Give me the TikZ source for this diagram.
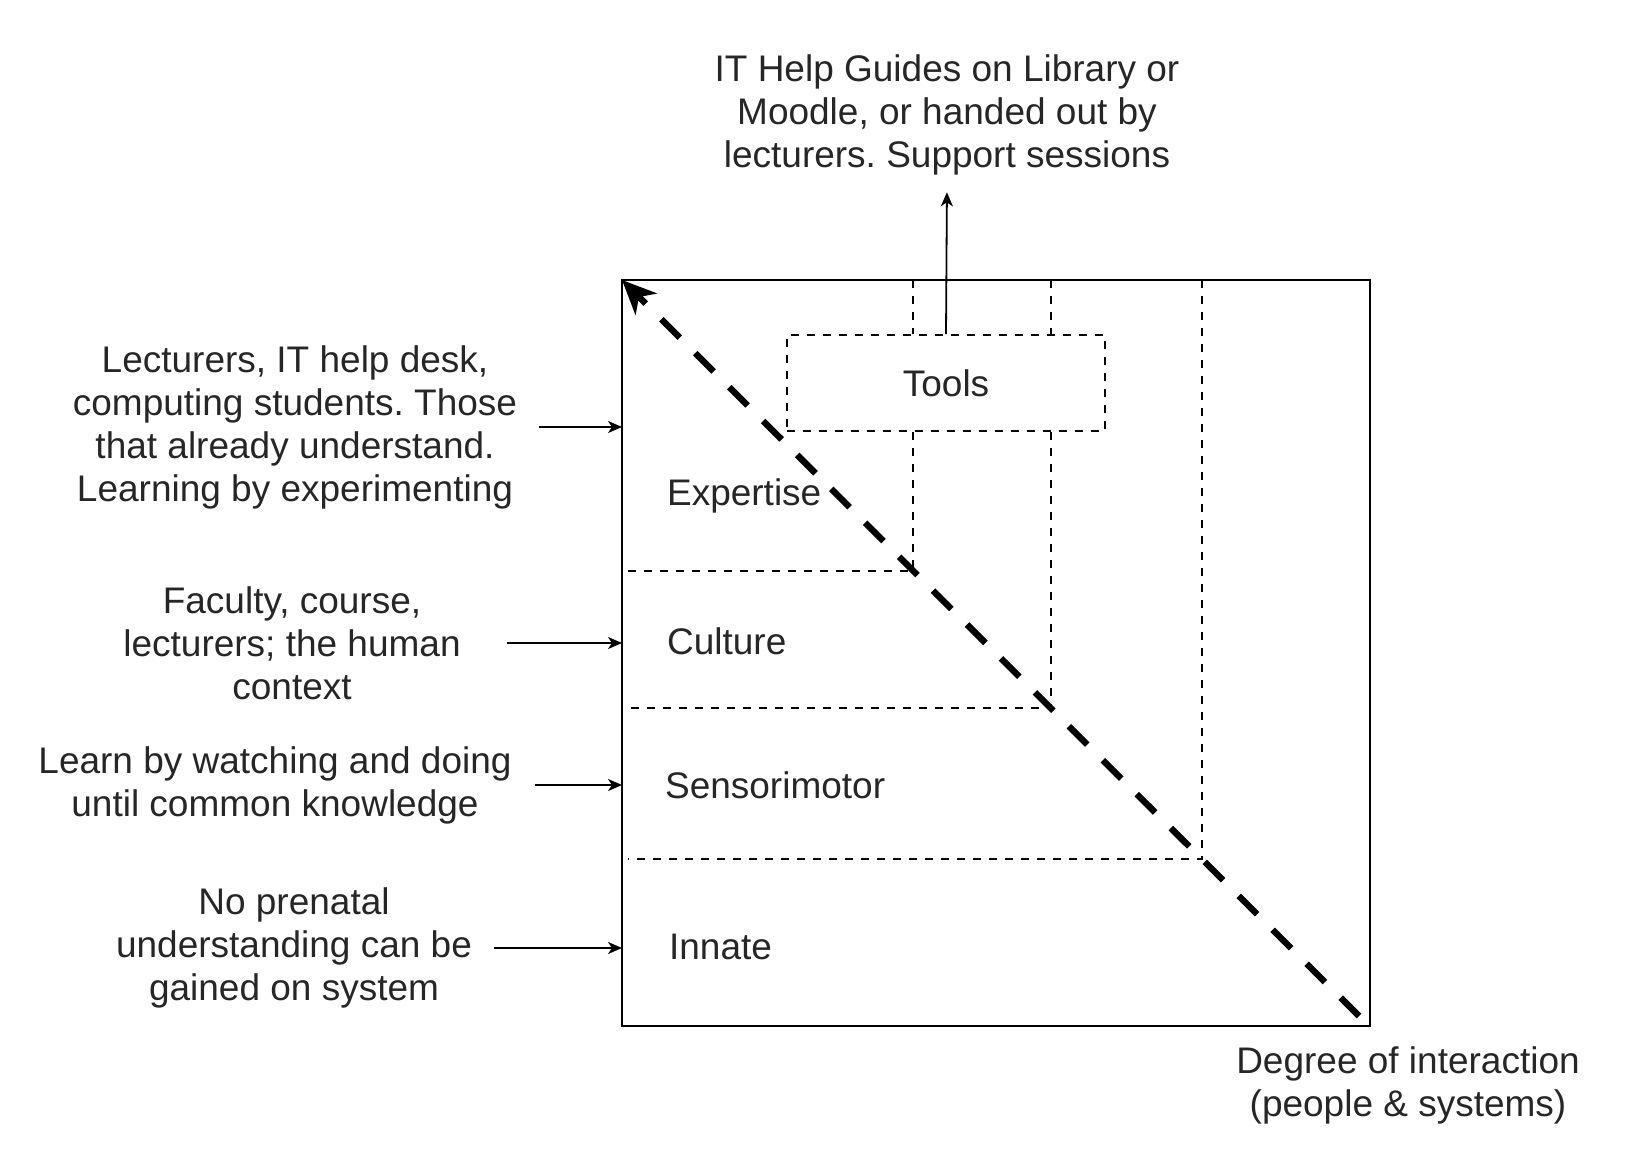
\documentclass[tikz,border=0pt]{standalone}
\usepackage{fontspec}
\setmainfont{Liberation Sans}
\usetikzlibrary{arrows.meta}
\frenchspacing
\newcommand{\gapline}[2]{
    \draw[fine] (#1 |- nw) -- (#1 |- tools.north);
    \draw[fine] (#1 |- tools.south) -- (#1) -- (#2,0 |- #1);
}

\begin{document}
\begin{tikzpicture}[x=0.5pt,y=-0.5pt,
    every node/.style={font=\fontsize{18.5}{21.5}\selectfont, text=black!85, align=center},
    region/.style={anchor=west},
    fine/.style={line width=0.8pt, dash pattern=on 4pt off 4pt},
    pointer/.style={line width=0.9pt, -{Stealth[length=7pt,width=6pt,inset=2pt]}},
    diag/.style={line width=3.2pt, dash pattern=on 13pt off 11pt, -{Stealth[length=17pt,width=15pt,inset=5pt]}}]
    \useasboundingbox (0,0) rectangle (1638,1176);
    \coordinate (nw) at (622,280);
    \coordinate (se) at (1370,1026);
    \coordinate (lvlexp) at (913,571);
    \coordinate (lvlcul) at (1051,708);
    \coordinate (lvlsen) at (1202,859);
    \draw[line width=1pt] (nw) rectangle (se);
    \node[draw, fine, minimum width=159pt, minimum height=48pt] (tools) at (946,383) {Tools};
    % dashed levels
    \gapline{lvlexp}{628}
    \gapline{lvlcul}{622}
    \draw[fine] (lvlsen |- nw) -- (lvlsen) -- (628,0 |- lvlsen);
    \node[region] (expertise) at (660,496) {Expertise};
    \node[region] (culture) at (660,641) {Culture};
    \node[region] (sensori) at (658,785) {Sensorimotor};
    \node[region] (innate) at (662,947) {Innate};
    \draw[diag] (1359,1016) -- (nw);
    % notes
    \node (helpguides) at (947,115) {IT Help Guides on Library or\\Moodle, or handed out by\\lecturers. Support sessions};
    \draw[pointer, shorten >=5pt] (tools.north) -- (helpguides.south);
    \node (lecturers) at (295,427) {Lecturers, IT help desk,\\computing students. Those\\that already understand.\\Learning by experimenting};
    \node (faculty) at (292,643) {Faculty, course,\\lecturers; the human\\context};
    \node (watching) at (275,785) {Learn by watching and doing\\until common knowledge};
    \node (prenatal) at (294,948) {No prenatal\\understanding can be\\gained on system};
    \foreach \n/\x in {lecturers/539, faculty/507, watching/535, prenatal/494}
        \draw[pointer] (\x,0 |- \n.east) -- (nw |- \n.east);
    \node (degree) at (1408,1085) {Degree of interaction\\(people \& systems)};
\end{tikzpicture}
\end{document}
